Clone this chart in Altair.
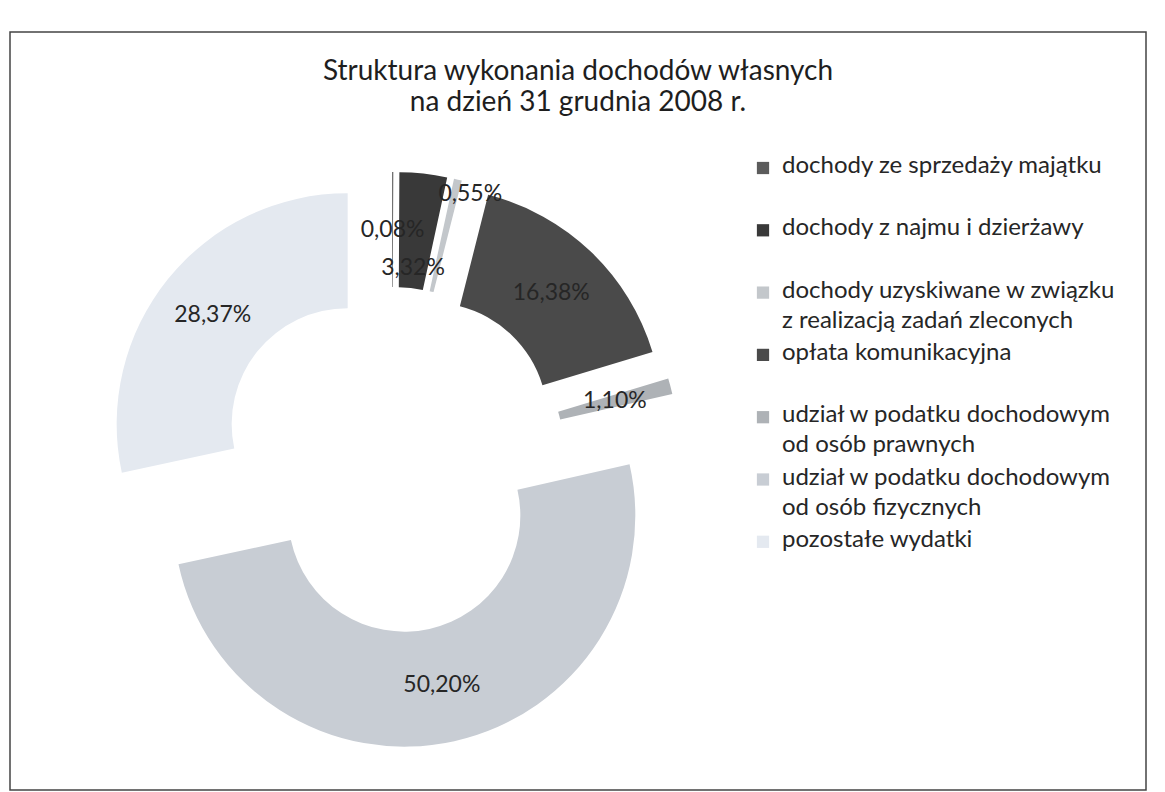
import math
import altair as alt
import pandas as pd

TITLE = ["Struktura wykonania dochodów własnych", "na dzień 31 grudnia 2008 r."]
CATEGORIES = [
    "dochody ze sprzedaży majątku",
    "dochody z najmu i dzierżawy",
    "dochody uzyskiwane w związku|z realizacją zadań zleconych",
    "opłata komunikacyjna",
    "udział w podatku dochodowym|od osób prawnych",
    "udział w podatku dochodowym|od osób fizycznych",
    "pozostałe wydatki",
]
SHARES = [0.08, 3.32, 0.55, 16.38, 1.10, 50.20, 28.37]
COLORS = ["#5c5c5c", "#393939", "#c3c7cb", "#4a4a4a", "#aeb2b6", "#c8cdd4", "#e4e9f0"]

# layout constants (pixels)
W, H = 1165, 792
CX, CY = 392, 460          # donut centre
R_OUT, R_IN = 231, 116     # ring radii
EXPLODE = 57               # explosion distance
LABEL_R = (R_OUT + R_IN) / 2
FONT = "Lato"

df = pd.DataFrame({"category": CATEGORIES, "share": SHARES, "idx": list(range(len(SHARES)))})

base = (
    alt.Chart(df)
    .transform_window(cum="sum(share)", sort=[alt.SortField("idx")], frame=[None, 0])
    .transform_calculate(start="datum.cum - datum.share")
    .transform_calculate(mid="2*PI*(datum.start + datum.share/2)/100")
    .transform_calculate(
        cx=f"{CX} + {EXPLODE}*sin(datum.mid)",
        cy=f"{CY} - {EXPLODE}*cos(datum.mid)",
    )
)

theta_scale = alt.Scale(domain=[0, 100], range=[0, 2 * math.pi])
color_scale = alt.Scale(domain=CATEGORIES, range=COLORS)

arcs = base.mark_arc(radius=R_OUT, radius2=R_IN).encode(
    x=alt.X("cx:Q", scale=None),
    y=alt.Y("cy:Q", scale=None),
    theta=alt.Theta("start:Q", scale=theta_scale),
    theta2="cum:Q",
    color=alt.Color("category:N", scale=color_scale, legend=None),
)

# label placement: ring middle; two crowded labels nudged (as Excel does)
labels = (
    base.transform_calculate(
        lr=f"datum.idx == 1 ? 136 : (datum.idx == 2 ? 220 : {LABEL_R})",
        la="datum.idx == 2 ? datum.mid + 0.07 : datum.mid",
    )
    .transform_calculate(
        lx="datum.cx + datum.lr*sin(datum.la)",
        ly="datum.cy - datum.lr*cos(datum.la)",
        txt="replace(format(datum.share, '.2f'), '.', ',') + '%'",
    )
    .mark_text(font=FONT, fontSize=23, color="#262626", align="center", baseline="middle")
    .encode(x=alt.X("lx:Q", scale=None), y=alt.Y("ly:Q", scale=None), text="txt:N")
)

LEG_X, LEG_Y0, LEG_GAP = 763, 168, 62.3

leg_base = alt.Chart(df).transform_calculate(ly=f"{LEG_Y0} + datum.idx*{LEG_GAP}")
leg_sym = leg_base.mark_square(size=150, opacity=1).encode(
    x=alt.value(LEG_X),
    y=alt.Y("ly:Q", scale=None),
    color=alt.Color("category:N", scale=color_scale, legend=None),
)
leg_txt = leg_base.mark_text(
    font=FONT, fontSize=24, color="#262626", align="left", baseline="top",
    lineBreak="|", lineHeight=30, dy=-14,
).encode(x=alt.value(LEG_X + 19), y=alt.Y("ly:Q", scale=None), text="category:N")

title = alt.Chart(pd.DataFrame({"t": ["|".join(TITLE)]})).mark_text(
    font=FONT, fontSize=28, color="#1e1e1e", align="center", baseline="top",
    lineBreak="|", lineHeight=31,
).encode(x=alt.value(578), y=alt.value(58), text="t:N")

frame = alt.Chart(pd.DataFrame({"a": [0]})).mark_rect(fill=None, stroke="#444", strokeWidth=1.5).encode(
    x=alt.value(10), x2=alt.value(1146), y=alt.value(32), y2=alt.value(790)
)

chart = (
    alt.layer(frame, arcs, labels, leg_sym, leg_txt, title)
    .properties(width=W, height=H, padding=0, autosize="none", background="white")
    .configure_view(stroke=None)
)

chart.save("out.html", embed_options={"renderer": "svg", "actions": False})
